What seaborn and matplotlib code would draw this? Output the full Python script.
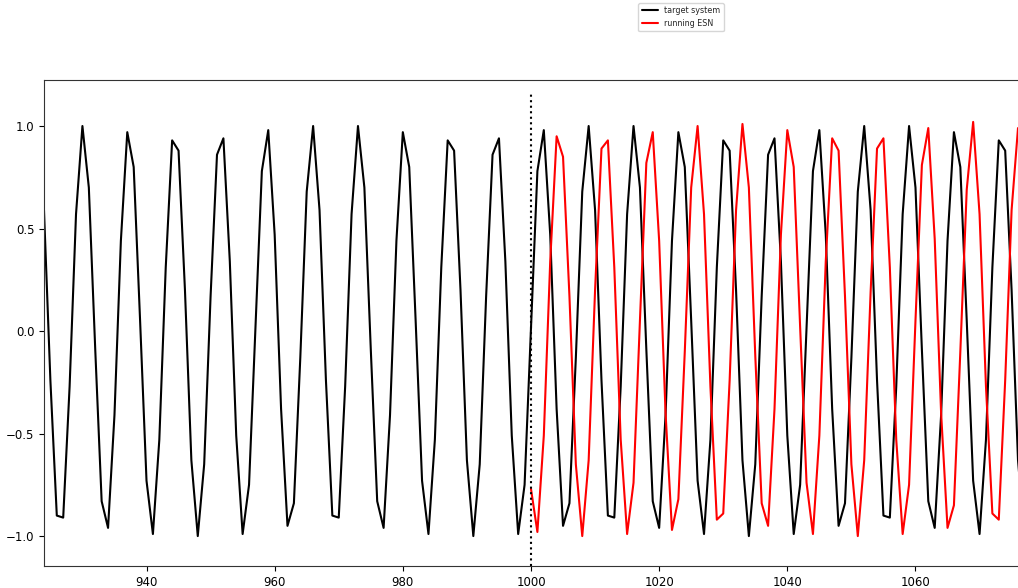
import numpy as np
import pandas as pd
import matplotlib
matplotlib.use("Agg")
import matplotlib.pyplot as plt
import seaborn as sns

sns.set_style("ticks")
plt.rcParams['font.family'] = ['DejaVu Sans']

# time steps
steps_target = list(range(924, 1078))
steps_esn = list(range(1000, 1078))

# target system (black)
target = [
    0.59, -0.24, -0.90, -0.91, -0.27, 0.57,
    1.00, 0.70, -0.09, -0.83, -0.96, -0.41, 0.44, 0.97, 0.80, 0.05, -0.73, -0.99, -0.53, 0.31, 0.93,
    0.88, 0.20, -0.63, -1.00, -0.65, 0.17, 0.86, 0.94, 0.34, -0.51, -0.99, -0.75, 0.02, 0.78, 0.98,
    0.47, -0.38, -0.95, -0.84, -0.13, 0.68, 1.00, 0.59, -0.24, -0.90, -0.91, -0.27, 0.57,
    1.00, 0.70, -0.09, -0.83, -0.96, -0.41, 0.44, 0.97, 0.80, 0.05, -0.73, -0.99, -0.53, 0.31, 0.93,
    0.88, 0.20, -0.63, -1.00, -0.65, 0.17, 0.86, 0.94, 0.34, -0.51, -0.99, -0.75, 0.02, 0.78, 0.98,
    0.47, -0.38, -0.95, -0.84, -0.13, 0.68, 1.00, 0.59, -0.24, -0.90, -0.91, -0.27, 0.57,
    1.00, 0.70, -0.09, -0.83, -0.96, -0.41, 0.44, 0.97, 0.80, 0.05, -0.73, -0.99, -0.53, 0.31, 0.93,
    0.88, 0.20, -0.63, -1.00, -0.65, 0.17, 0.86, 0.94, 0.34, -0.51, -0.99, -0.75, 0.02, 0.78, 0.98,
    0.47, -0.38, -0.95, -0.84, -0.13, 0.68, 1.00, 0.59, -0.24, -0.90, -0.91, -0.27, 0.57,
    1.00, 0.70, -0.09, -0.83, -0.96, -0.41, 0.44, 0.97, 0.80, 0.05, -0.73, -0.99, -0.53, 0.31, 0.93,
    0.88, 0.20, -0.63, -1.00,
]

# free running ESN output (red)
esn = [
    -0.77, -0.98, -0.51, 0.34, 0.95, 0.85, 0.17, -0.65, -1.00, -0.63,
    0.20, 0.89, 0.93, 0.31, -0.53, -0.99, -0.74, 0.05, 0.82, 0.97,
    0.44, -0.40, -0.97, -0.82, -0.10, 0.70, 1.00, 0.57, -0.27, -0.92,
    -0.89, -0.24, 0.59, 1.01, 0.70, -0.12, -0.84, -0.95, -0.38, 0.47,
    0.98, 0.80, 0.02, -0.74, -0.99, -0.51, 0.34, 0.94, 0.88, 0.17,
    -0.65, -1.00, -0.63, 0.19, 0.89, 0.94, 0.31, -0.53, -0.99, -0.75,
    0.05, 0.81, 0.99, 0.45, -0.40, -0.96, -0.85, -0.10, 0.69, 1.02,
    0.57, -0.27, -0.89, -0.92, -0.24, 0.59, 0.99, 0.68,
]

df_t = pd.DataFrame({'step': steps_target, 'value': target})
df_e = pd.DataFrame({'step': steps_esn, 'value': esn})

fig = plt.figure(figsize=(10.18, 5.88), dpi=100)
ax = fig.add_axes([0.0432, 0.0374, 0.9631, 0.8257])

sns.lineplot(data=df_t, x='step', y='value', color='black', lw=1.5,
             label='target system', ax=ax, legend=False)
sns.lineplot(data=df_e, x='step', y='value', color='red', lw=1.5,
             label='running ESN', ax=ax, legend=False)
ax.vlines(1000, -1.146, 1.16, colors='black', linestyles='dotted', lw=1.5)

ax.set_xlim(924, 1077)
ax.set_ylim(-1.146, 1.222)
ax.set_xticks([940, 960, 980, 1000, 1020, 1040, 1060])
ax.set_yticks([-1.0, -0.5, 0.0, 0.5, 1.0])
ax.set_xlabel('')
ax.set_ylabel('')
ax.tick_params(labelsize=8.5, length=3.5, width=0.8, colors='black')
for s in ax.spines.values():
    s.set_color('#333333')
    s.set_linewidth(0.8)

handles, labels = ax.get_legend_handles_labels()
fig.legend(handles, labels, loc='upper center', bbox_to_anchor=(681 / 1018, 1 - 3 / 588),
           fontsize=5.8, frameon=True, borderaxespad=0)

fig.savefig('out.png', dpi=100)
